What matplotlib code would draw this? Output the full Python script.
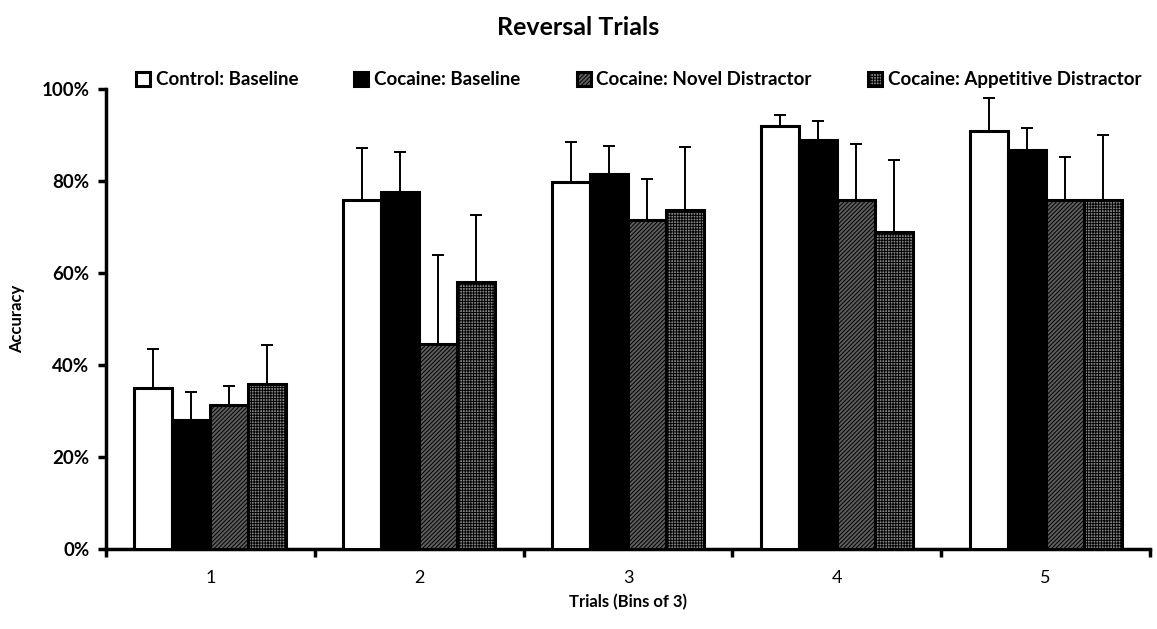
import matplotlib
matplotlib.use("Agg")
import matplotlib.pyplot as plt
import numpy as np
from matplotlib.ticker import PercentFormatter, FixedLocator

plt.rcParams.update(
    {
        "font.family": ["Lato", "DejaVu Sans"],
        "hatch.linewidth": 0.7,
    }
)

# %% Data

bins = ["1", "2", "3", "4", "5"]
groups = [
    "Control: Baseline",
    "Cocaine: Baseline",
    "Cocaine: Novel Distractor",
    "Cocaine: Appetitive Distractor",
]
means = {
    "Control: Baseline": [35.1, 75.9, 79.7, 92.0, 90.9],
    "Cocaine: Baseline": [28.0, 77.7, 81.5, 88.9, 86.7],
    "Cocaine: Novel Distractor": [31.3, 44.6, 71.5, 75.9, 75.9],
    "Cocaine: Appetitive Distractor": [35.8, 58.0, 73.8, 68.9, 75.9],
}
errs = {
    "Control: Baseline": [8.4, 11.3, 8.8, 2.3, 7.1],
    "Cocaine: Baseline": [6.1, 8.5, 6.2, 4.1, 4.8],
    "Cocaine: Novel Distractor": [4.1, 19.3, 8.9, 12.1, 9.3],
    "Cocaine: Appetitive Distractor": [8.5, 14.6, 13.5, 15.7, 14.1],
}

styles = {
    "Control: Baseline": dict(facecolor="white", hatch=None),
    "Cocaine: Baseline": dict(facecolor="black", hatch=None),
    "Cocaine: Novel Distractor": dict(facecolor="#5e5e5e", hatch="////////"),
    "Cocaine: Appetitive Distractor": dict(facecolor="#858585", hatch="++++++"),
}

# %% Plot

fig = plt.figure(figsize=(11.57, 6.29), dpi=100)
ax = fig.add_axes([0.0916, 0.1272, 0.9024, 0.7313])

x = np.arange(len(bins))
width = 0.182
offsets = (np.arange(len(groups)) - 1.5) * width

for off, g in zip(offsets, groups):
    st = styles[g]
    ax.bar(
        x + off,
        means[g],
        width,
        facecolor=st["facecolor"],
        hatch=st["hatch"],
        edgecolor="black",
        linewidth=2.2,
        label=g,
        zorder=3,
    )
    ax.errorbar(
        x + off,
        means[g],
        yerr=[np.zeros(len(bins)), errs[g]],
        fmt="none",
        ecolor="black",
        elinewidth=1.4,
        capsize=4.5,
        capthick=1.4,
        zorder=2,
    )

ax.set_xlim(-0.5, len(bins) - 0.5)
ax.set_ylim(0, 100)
ax.set_yticks(np.arange(0, 101, 20))
ax.yaxis.set_major_formatter(PercentFormatter(decimals=0))

ax.set_xticks(x, labels=bins)
ax.tick_params(axis="x", which="major", length=0, pad=15, labelsize=13)
ax.xaxis.set_minor_locator(FixedLocator(np.arange(-0.5, len(bins), 1.0)))
ax.tick_params(axis="x", which="minor", length=6, width=2.5, direction="out")
ax.tick_params(axis="y", length=6, width=2.5, labelsize=13.5, pad=6)
for lbl in ax.get_yticklabels():
    lbl.set_fontweight("bold")

ax.spines[["top", "right"]].set_visible(False)
ax.spines["left"].set_linewidth(2.5)
ax.spines["bottom"].set_linewidth(2.5)

ax.set_ylabel("Accuracy", fontweight="bold", fontsize=12, labelpad=12)
ax.set_xlabel("Trials (Bins of 3)", fontweight="bold", fontsize=12, labelpad=6)

fig.suptitle("Reversal Trials", fontweight="bold", fontsize=18, y=0.975)

ax.legend(
    loc="lower center",
    bbox_to_anchor=(0.51, 0.985),
    ncol=4,
    frameon=False,
    prop={"weight": "bold", "size": 13.5},
    handlelength=0.75,
    handleheight=0.75,
    handletextpad=0.3,
    columnspacing=3.0,
    borderaxespad=0.0,
)

fig.savefig("out.png", dpi=100)
